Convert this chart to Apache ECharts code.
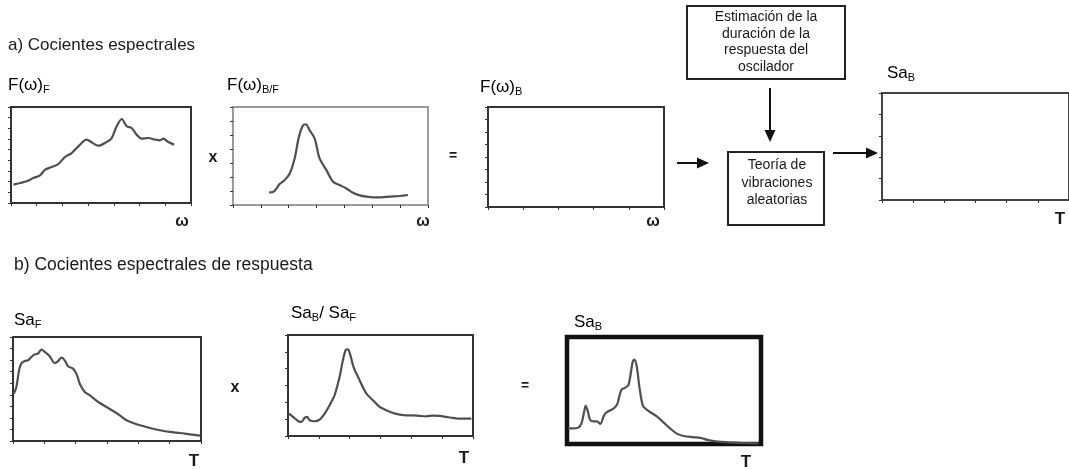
<!DOCTYPE html>
<html>
<head>
<meta charset="utf-8">
<script src="https://cdn.jsdelivr.net/npm/echarts@6/dist/echarts.min.js"></script>
<style>
html, body { margin: 0; padding: 0; background: #fff; }
#main { width: 1069px; height: 470px; }
</style>
</head>
<body>
<div id="main"></div>
<script>
// a) F(w)_F  (x: frequency 0-100, y: amplitude 0-100)
const fF_w = [1.3, 5, 8.7, 12.4, 16.1, 18.9, 22.6, 26.3, 30, 33.7, 37.4, 42, 44.8, 48.5, 52.2, 55.9, 58.7, 61.5, 64.3, 67, 69.8, 72.6, 76.3, 80, 82.8, 84.6, 87.4, 90.6];
const fF_v = [19.1, 20.8, 22.6, 26, 28.8, 34.7, 37.5, 40.6, 47.9, 52, 59, 66, 63.2, 59.7, 62.5, 67.7, 79.9, 87.5, 79.9, 78.1, 71.2, 67, 67.7, 66, 65.3, 67, 63.5, 60.8];

// a) F(w)_B/F
const fBF_w = [18.5, 20.9, 23.9, 26.5, 29.1, 31.6, 33.8, 35.9, 37.3, 39.3, 41.9, 44.4, 47.9, 51.3, 54.7, 58.1, 61.5, 65, 68.4, 71.8, 76.1, 80.3, 85.5, 89.7];
const fBF_v = [12.9, 13.6, 21.4, 25.4, 32.2, 47.5, 69.5, 81.4, 82.4, 76.3, 67.8, 47.5, 35.6, 23.7, 20.3, 16.9, 12.5, 9.8, 8.5, 7.8, 7.8, 8.5, 9.2, 10.2];

// b) Sa_F
const saF_T = [0.4, 1.8, 3.2, 4.4, 6.2, 8, 9.8, 11.5, 13.3, 15.1, 16.9, 19.5, 22.2, 24, 25.8, 27.5, 29.3, 32, 34.1, 35.5, 38.2, 40.9, 43.5, 46.2, 49.7, 53.3, 56.8, 60.4, 63.9, 67.5, 72.8, 78.2, 83.5, 88.8, 94.1, 99.5];
const saF_v = [45.5, 51.9, 67.9, 74.4, 76.9, 77.6, 80.8, 83.3, 84, 87.8, 85.6, 81.4, 75, 76.9, 80.1, 77.6, 71.8, 69.6, 63.1, 55.1, 47.1, 43.9, 40.1, 36.5, 32.7, 28.8, 24.7, 19.9, 17.3, 15.1, 12.5, 10.3, 8.7, 7.7, 6.4, 5.1];

// b) Sa_B / Sa_F
const ratio_T = [0, 2.7, 5.4, 7.2, 9, 10.3, 11.7, 14.4, 17.1, 19.8, 22.5, 25.2, 27.9, 29.7, 31.2, 32.4, 33.7, 35.5, 38.7, 42.3, 45.9, 49.5, 53.2, 56.8, 60.4, 64, 67.6, 71.2, 74.8, 78.4, 82, 85.6, 89.2, 92.8, 99.1];
const ratio_v = [22.8, 18.9, 14.9, 13.9, 17.9, 18.9, 15.6, 14.6, 16.2, 22.2, 30.5, 40.4, 58.6, 75.2, 85.1, 85.8, 80.1, 67.9, 55.3, 42.1, 35.4, 28.8, 25.5, 22.8, 21.2, 20.5, 20.5, 19.9, 19.5, 20.2, 19.9, 18.9, 17.9, 17.2, 17.2];

// b) Sa_B
const saB_T = [0.5, 3.2, 5.8, 7.5, 8.9, 9.6, 10.7, 11.9, 13.7, 15.4, 17.2, 18.9, 20.1, 22.4, 24.2, 25.9, 27.1, 28.2, 30.3, 31.7, 32.9, 33.8, 34.7, 35.9, 37.3, 39.1, 40.8, 43.4, 46.1, 49.6, 53.1, 56.6, 60.1, 64.4, 68.8, 72.3, 77.6, 82.8, 89.8, 98.6];
const saB_v = [14.6, 14.6, 15.3, 19.5, 30.8, 35.7, 30.8, 22.7, 21.1, 21.1, 18.8, 26, 29.2, 31.5, 33.4, 37.3, 45.5, 51, 52.9, 55.2, 66.6, 76.3, 78.9, 73.1, 53.6, 35.7, 32.5, 29.2, 26, 20.5, 14.6, 9.7, 7.5, 6.5, 5.8, 3.9, 2.3, 1.6, 1, 0.6];

const FONT = 'Liberation Sans, Arial, sans-serif';
const INK = '#1a1a1a';

// panel boxes: left, top, width, height, x intervals, y intervals, border colour, border width, ticks
const panels = [
  [11, 107, 180, 96, 7, 9, '#333', 2, true],
  [233, 107, 195, 98, 7, 7, '#9a9a9a', 2, true],
  [488, 107, 176, 100, 5, 8, '#333', 2, true],
  [882, 93, 193, 107, 6, 5, '#444', 2, true],
  [13, 337, 188, 104, 6, 9, '#333', 2, true],
  [288, 335, 185, 101, 6, 6, '#333', 2, true],
  [567, 337, 194, 107, 6, 6, '#111', 4.5, false]
];

const grid = [], xAxis = [], yAxis = [];
panels.forEach(function (p, i) {
  grid.push({ left: p[0], top: p[1], width: p[2], height: p[3], show: true,
    borderColor: p[6], borderWidth: p[7], backgroundColor: 'transparent' });
  const tick = { show: p[8], length: 3, lineStyle: { color: '#333', width: 1 } };
  xAxis.push({ type: 'value', gridIndex: i, min: 0, max: 100, interval: 100 / p[4],
    axisLine: { show: false }, axisTick: tick, axisLabel: { show: false }, splitLine: { show: false } });
  yAxis.push({ type: 'value', gridIndex: i, min: 0, max: 100, interval: 100 / p[5],
    axisLine: { show: false }, axisTick: tick, axisLabel: { show: false }, splitLine: { show: false } });
});

function curve(idx, xs, ys) {
  return {
    type: 'line', xAxisIndex: idx, yAxisIndex: idx,
    data: xs.map(function (x, k) { return [x, ys[k]]; }),
    showSymbol: false, smooth: 0.3, silent: true,
    lineStyle: { color: '#505050', width: 2.2 }
  };
}

const rich = {
  a: { fontSize: 17, fontFamily: FONT, color: INK },
  s: { fontSize: 11, fontFamily: FONT, color: INK, padding: [10, 0, 0, 0] }
};

function label(x, y, text) {
  return { type: 'text', x: x, y: y, style: { text: text, rich: rich, verticalAlign: 'middle', align: 'left' } };
}
function plain(x, y, text, size, bold, align) {
  return { type: 'text', x: x, y: y, style: { text: text, font: (bold ? 'bold ' : '') + size + 'px ' + FONT,
    fill: INK, verticalAlign: 'middle', align: align || 'center' } };
}
function arrow(x1, y1, x2, y2) {
  const ang = Math.atan2(y2 - y1, x2 - x1), L = 12, W = 5.5;
  const bx = x2 - L * Math.cos(ang), by = y2 - L * Math.sin(ang);
  const px = -Math.sin(ang) * W, py = Math.cos(ang) * W;
  return [
    { type: 'line', shape: { x1: x1, y1: y1, x2: bx, y2: by }, style: { stroke: '#111', lineWidth: 2 } },
    { type: 'polygon', shape: { points: [[x2, y2], [bx + px, by + py], [bx - px, by - py]] }, style: { fill: '#111' } }
  ];
}

const graphic = [
  plain(8, 45, 'a) Cocientes espectrales', 17, false, 'left'),
  plain(14, 265, 'b) Cocientes espectrales de respuesta', 17.5, false, 'left'),
  label(8, 85, '{a|F(ω)}{s|F}'),
  label(227, 85, '{a|F(ω)}{s|B/F}'),
  label(480, 87, '{a|F(ω)}{s|B}'),
  label(887, 73, '{a|Sa}{s|B}'),
  label(14, 320, '{a|Sa}{s|F}'),
  label(291, 313, '{a|Sa}{s|B}{a|/ Sa}{s|F}'),
  label(574, 322, '{a|Sa}{s|B}'),
  plain(182, 222, 'ω', 16, true), plain(423, 222, 'ω', 16, true), plain(653, 222, 'ω', 16, true),
  plain(1060, 219, 'T', 17, true), plain(194, 461, 'T', 17, true),
  plain(464, 458, 'T', 17, true), plain(746, 462, 'T', 17, true),
  plain(213, 158, 'x', 16, true), plain(235, 388, 'x', 16, true),
  plain(453, 156, '=', 14, true), plain(525, 386, '=', 14, true),
  { type: 'rect', shape: { x: 687, y: 6, width: 158, height: 73 }, style: { fill: '#fff', stroke: '#222', lineWidth: 2 } },
  { type: 'text', x: 766, y: 42, style: { text: 'Estimación de la\nduración de la\nrespuesta del\noscilador',
    font: '14px ' + FONT, lineHeight: 16.7, fill: INK, align: 'center', verticalAlign: 'middle' } },
  { type: 'rect', shape: { x: 728, y: 152, width: 96, height: 73 }, style: { fill: '#fff', stroke: '#222', lineWidth: 2 } },
  { type: 'text', x: 777, y: 183, style: { text: 'Teoría de\nvibraciones\naleatorias',
    font: '14px ' + FONT, lineHeight: 17.5, fill: INK, align: 'center', verticalAlign: 'middle' } }
].concat(arrow(770, 88, 770, 142), arrow(677, 163, 709, 163), arrow(833, 153, 878, 153));

const chart = echarts.init(document.getElementById('main'));
chart.setOption({
  animation: false,
  backgroundColor: '#fff',
  grid: grid,
  xAxis: xAxis,
  yAxis: yAxis,
  series: [
    curve(0, fF_w, fF_v),
    curve(1, fBF_w, fBF_v),
    curve(4, saF_T, saF_v),
    curve(5, ratio_T, ratio_v),
    curve(6, saB_T, saB_v)
  ],
  graphic: graphic
});
</script>
</body>
</html>
